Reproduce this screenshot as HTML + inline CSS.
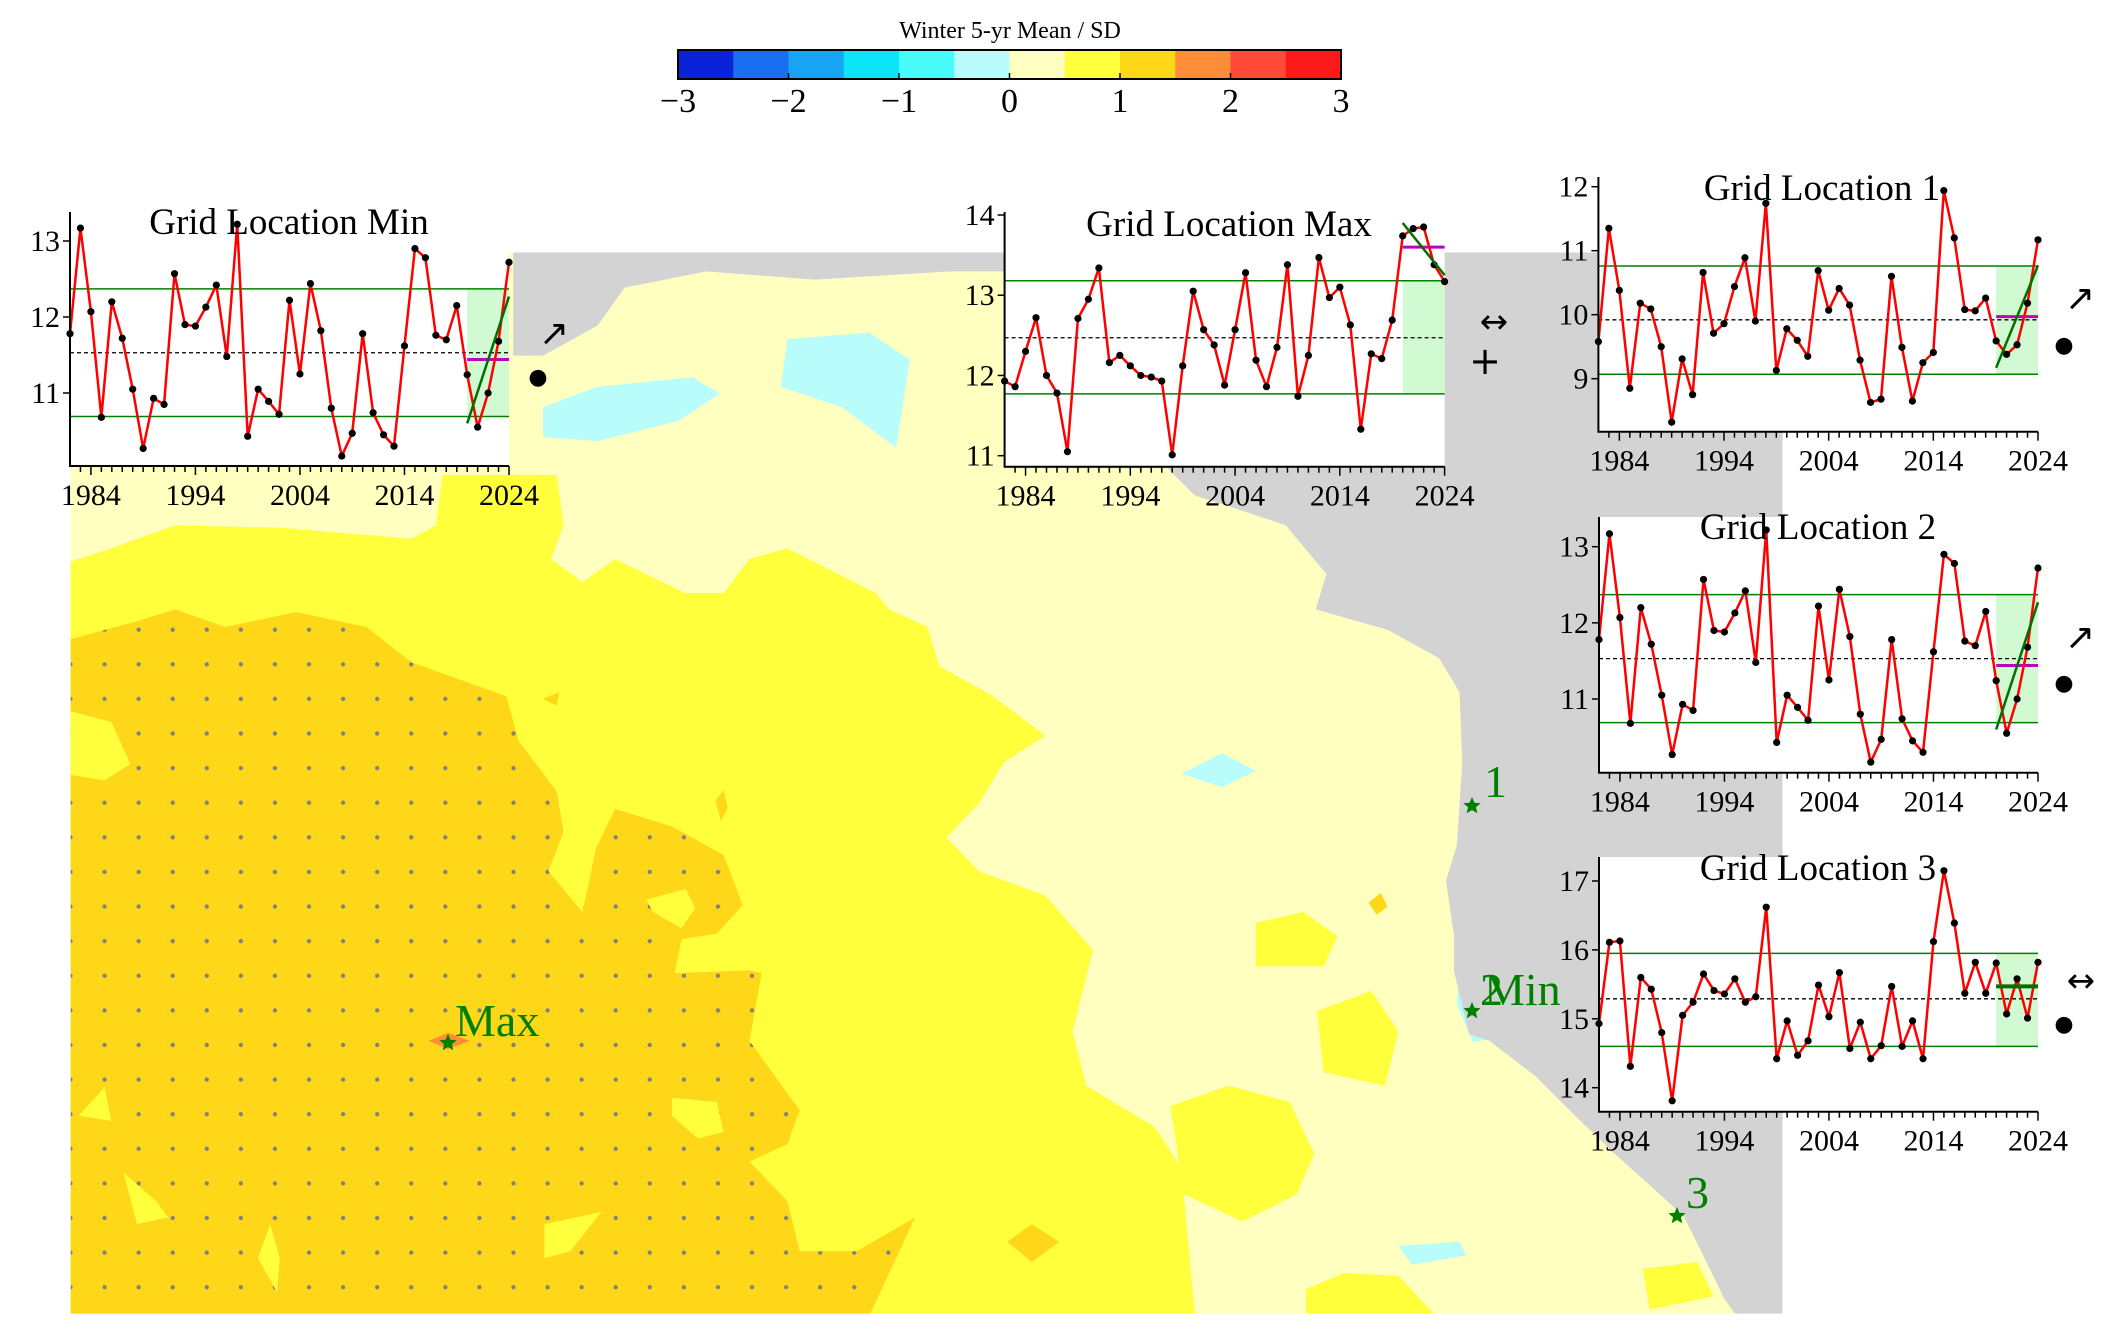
<!DOCTYPE html>
<html><head><meta charset="utf-8"><style>
html,body{margin:0;padding:0;background:#fff;}
svg{display:block;font-family:"Liberation Serif","DejaVu Serif",serif;}
</style></head><body>
<svg id="fig" width="2118" height="1330" viewBox="0 0 2118 1330" xmlns="http://www.w3.org/2000/svg">
<defs>
<clipPath id="mapclip"><rect x="52" y="186" width="1261" height="782"/></clipPath>
<pattern id="dots" patternUnits="userSpaceOnUse" x="64.45" y="451.25" width="25.1" height="25.5"><circle cx="12.55" cy="12.75" r="1.6" fill="#808080"/></pattern>
</defs>
<rect x="0" y="0" width="2118" height="1330" fill="#fff"/>
<g id="map" transform="scale(1.35769,1.35714)" clip-path="url(#mapclip)">
<rect x="52" y="186" width="1261" height="782" fill="#ffffc0"/>
<polygon fill="#ffff3c" points="52,414 82,404 129,387 208,389 303,397 321,387 326,350 410,350 415,387 406,412 429,429 453,412 505,437 533,437 552,412 580,404 645,437 655,449 683,462 692,491 730,512 770,542 739,562 721,592 697,617 721,642 770,660 805,700 790,760 800,800 850,830 870,860 880,968 52,968"/>
<g fill="#ffff3c">
<polygon points="925,680 960,672 985,690 975,712 925,712"/>
<polygon points="970,745 1010,730 1030,760 1020,800 975,790"/>
<polygon points="862,815 905,800 950,812 968,850 955,880 915,900 872,880"/>
<polygon points="962,950 990,938 1030,940 1056,968 962,968"/>
<polygon points="1210,935 1250,930 1262,955 1215,965"/>
<polygon points="470,190 510,188 520,200 480,205"/>
<polygon points="1040,455 1075,470 1085,485 1060,478"/>
</g>
<polygon id="goldpoly" fill="#ffd719" points="52,471 100,458 129,449 166,462 218,451 270,462 303,488 373,513 382,546 410,583 415,613 404,642 429,672 439,625 453,596 495,609 533,630 547,667 528,688 502,692 497,717 552,715 561,717 552,767 589,818 580,843 552,856 580,885 589,922 631,922 674,897 641,968 52,968"/>
<polygon fill="url(#dots)" points="52,471 100,458 129,449 166,462 218,451 270,462 303,488 373,513 382,546 410,583 415,613 404,642 429,672 439,625 453,596 495,609 533,630 547,667 528,688 502,692 497,717 552,715 561,717 552,767 589,818 580,843 552,856 580,885 589,922 631,922 674,897 641,968 52,968"/>
<g fill="#ffd719">
<polygon points="400,515 412,510 410,520"/>
<polygon points="527,590 533,582 536,595 531,605"/>
<polygon points="1008,665 1017,658 1022,668 1014,674"/>
<polygon points="742,915 760,902 780,915 760,930"/>
</g>
<g fill="#ffff3c">
<polygon points="52,524 82,532 96,563 77,575 52,571"/>
<polygon points="476,663 505,655 512,669 502,684 481,672"/>
<polygon points="495,809 528,812 533,834 514,839 495,822"/>
<polygon points="91,864 115,885 124,897 101,902"/>
<polygon points="199,902 206,927 204,952 190,927"/>
<polygon points="77,801 82,826 58,822"/>
<polygon points="401,902 443,893 420,922 401,927"/>
</g>
<polygon fill="#ff8c37" points="316,767 330,761 346,767 330,773"/>
<g fill="#b8fcfc">
<polygon points="580,250 640,245 670,265 660,330 620,300 575,285"/>
<polygon points="400,300 440,285 510,278 530,290 500,310 440,325 400,322"/>
<polygon points="870,570 900,555 925,568 900,580"/>
<polygon points="1075,718 1090,730 1100,765 1085,768 1073,740"/>
<polygon points="1030,918 1075,915 1080,925 1040,932"/>
</g>
<polygon fill="#d3d3d3" points="378,186 1313,186 1313,968 1278,968 1270,957 1255,926 1240,896 1217,875 1188,849 1161,823 1131,793 1097,767 1082,762 1071,716 1071,690 1065,649 1073,623 1077,562 1075,510 1060,485 1022,464 969,449 977,423 947,387 917,377 880,365 860,345 740,345 740,200 700,200 600,206 520,200 460,212 440,240 400,262 378,262"/>
</g>
<g id="cbar"></g>
<g id="insets"></g>
<g id="marks"></g>
</svg>
<script>
const NS="http://www.w3.org/2000/svg";
const years=[];for(let y=1982;y<=2024;y++)years.push(y);
const minVals=[11.78,13.17,12.07,10.68,12.2,11.72,11.05,10.27,10.93,10.85,12.57,11.9,11.88,12.13,12.42,11.48,13.22,10.43,11.05,10.89,10.72,12.22,11.25,12.44,11.82,10.8,10.17,10.47,11.78,10.74,10.45,10.3,11.62,12.9,12.78,11.76,11.7,12.15,11.24,10.55,11.0,11.68,12.72];
const maxVals=[11.93,11.86,12.3,12.72,12.0,11.78,11.05,12.71,12.95,13.34,12.16,12.25,12.12,12.0,11.98,11.93,11.01,12.12,13.05,12.57,12.38,11.88,12.57,13.28,12.19,11.86,12.35,13.38,11.74,12.25,13.47,12.97,13.1,12.63,11.33,12.27,12.21,12.69,13.74,13.83,13.85,13.38,13.17];
const g1Vals=[9.58,11.35,10.38,8.85,10.18,10.09,9.5,8.32,9.31,8.75,10.66,9.71,9.86,10.44,10.89,9.9,11.74,9.13,9.78,9.6,9.35,10.69,10.07,10.41,10.15,9.29,8.63,8.68,10.6,9.49,8.65,9.25,9.41,11.94,11.2,10.08,10.06,10.26,9.59,9.38,9.53,10.18,11.17];
const g2Vals=[11.78,13.17,12.07,10.68,12.2,11.72,11.05,10.27,10.93,10.85,12.57,11.9,11.88,12.13,12.42,11.48,13.22,10.43,11.05,10.89,10.72,12.22,11.25,12.44,11.82,10.8,10.17,10.47,11.78,10.74,10.45,10.3,11.62,12.9,12.78,11.76,11.7,12.15,11.24,10.55,11.0,11.68,12.72];
const g3Vals=[14.93,16.11,16.13,14.31,15.6,15.43,14.8,13.81,15.05,15.24,15.65,15.41,15.36,15.58,15.24,15.32,16.62,14.42,14.97,14.47,14.68,15.49,15.03,15.67,14.57,14.95,14.42,14.61,15.47,14.6,14.97,14.42,16.12,17.15,16.39,15.37,15.82,15.37,15.81,15.07,15.58,15.01,15.82];
const minStats=[12.37,10.69,11.53,11.44];
const maxStats=[13.18,11.77,12.47,13.6];
const g1Stats=[10.76,9.07,9.92,9.97];
const g2Stats=[12.37,10.69,11.53,11.44];
const g3Stats=[15.95,14.6,15.29,15.47];
const minTrend=[10.6,12.27];
const maxTrend=[13.9,13.25];
const g1Trend=[9.17,10.77];
const g2Trend=[10.6,12.27];
const g3Trend=[15.47,15.47];
const recentStart=2020;
const minTicks=[11,12,13];
const maxTicks=[11,12,13,14];
const g1Ticks=[9,10,11,12];
const g2Ticks=[11,12,13];
const g3Ticks=[14,15,16,17];
const xTickLabels=[1984,1994,2004,2014,2024];
const cbLevels=[-3,-2.5,-2,-1.5,-1,-0.5,0,0.5,1,1.5,2,2.5,3];
const cbColors=['#0a22d8','#1a6ef0','#18a4f5','#0ce4fa','#48fcfc','#b8fcfc','#ffffc0','#ffff3c','#ffd719','#ff8c37','#ff4a37','#ff1a1a'];
const cbTicks=[-3,-2,-1,0,1,2,3];

function mk(tag,attrs,parent){const e=document.createElementNS(NS,tag);for(const k in attrs)e.setAttribute(k,attrs[k]);parent.appendChild(e);return e;}

const cb=document.getElementById('cbar');
const cbx0=678,cbx1=1341,cby0=50,cby1=79;
const cbX=v=>cbx0+(v-cbLevels[0])/(cbLevels[cbLevels.length-1]-cbLevels[0])*(cbx1-cbx0);
for(let i=0;i<cbColors.length;i++){
 const r=mk('rect',{x:cbX(cbLevels[i]),y:cby0,width:cbX(cbLevels[i+1])-cbX(cbLevels[i])+0.5,height:cby1-cby0,fill:cbColors[i]},cb);
 
 
}
const cbf=mk('rect',{x:cbx0,y:cby0,width:cbx1-cbx0,height:cby1-cby0,fill:'none',stroke:'#000','stroke-width':2},cb);


cbTicks.forEach(v=>{
 mk('line',{x1:cbX(v),x2:cbX(v),y1:cby1,y2:cby1-6,stroke:'#000','stroke-width':1.5},cb);
 const t=mk('text',{x:cbX(v),y:112,'text-anchor':'middle','font-size':34},cb);
 t.textContent=(v<0?'\u2212'+Math.abs(v):String(v));
 
 
});
const cbt=mk('text',{x:1010,y:38,'text-anchor':'middle','font-size':24},cb);
cbt.textContent='Winter 5-yr Mean / SD';



const insets=document.getElementById('insets');
function drawInset(name,title,vals,stats,trend,ticks,c){
 const g=mk('g',{},insets);
 
 
 const X=yr=>c.x0+(yr-years[0])/(years[years.length-1]-years[0])*(c.x1-c.x0);
 const Y=v=>c.yRef+(c.vRef-v)*c.ppu;
 mk('rect',{x:c.x0,y:c.top,width:c.x1-c.x0,height:c.bot-c.top,fill:'#fff'},g);
 const sh=mk('rect',{x:X(recentStart),y:Y(stats[0]),width:X(years[years.length-1])-X(recentStart),height:Y(stats[1])-Y(stats[0]),fill:'#d2fad2'},g);
 
 
 [stats[0],stats[1]].forEach(v=>{
  const l=mk('line',{x1:c.x0,x2:c.x1,y1:Y(v),y2:Y(v),stroke:'#008000','stroke-width':1.5},g);
  
  
 });
 const ml=mk('line',{x1:c.x0,x2:c.x1,y1:Y(stats[2]),y2:Y(stats[2]),stroke:'#000','stroke-width':1.3,'stroke-dasharray':'4,3'},g);
 
 
 const rl=mk('line',{x1:X(recentStart),x2:X(years[years.length-1]),y1:Y(stats[3]),y2:Y(stats[3]),stroke:'#c000c0','stroke-width':3},g);
 
 
 const pl=mk('polyline',{points:vals.map((v,i)=>X(years[i])+','+Y(v)).join(' '),fill:'none',stroke:'#ff0000','stroke-width':2.5,'stroke-linejoin':'round'},g);
 
 
 vals.forEach((v,i)=>{
  const d=mk('circle',{cx:X(years[i]),cy:Y(v),r:3.6,fill:'#000'},g);
  
  
 });
 const tl=mk('line',{x1:X(recentStart),x2:X(years[years.length-1]),y1:Y(trend[0]),y2:Y(trend[1]),stroke:'#007000','stroke-width':trend[0]===trend[1]?4:2.5},g);
 
 
 const ya=mk('line',{x1:c.x0,x2:c.x0,y1:c.top,y2:c.bot,stroke:'#000','stroke-width':2},g);
 
 
 const xa=mk('line',{x1:c.x0-1,x2:c.x1,y1:c.bot,y2:c.bot,stroke:'#000','stroke-width':2},g);
 
 
 ticks.forEach(v=>{
  mk('line',{x1:c.x0,x2:c.x0-7,y1:Y(v),y2:Y(v),stroke:'#000','stroke-width':1.5},g);
  const t=mk('text',{x:c.x0-10,y:Y(v)+10,'text-anchor':'end','font-size':30},g);
  t.textContent=String(v);
  
  
 });
 years.forEach(yr=>{
  const major=xTickLabels.indexOf(yr)>=0;
  if(yr===years[0])return;
  mk('line',{x1:X(yr),x2:X(yr),y1:c.bot,y2:c.bot+(major?9:6),stroke:'#000','stroke-width':1.5},g);
 });
 xTickLabels.forEach(yr=>{
  const t=mk('text',{x:X(yr),y:c.bot+39,'text-anchor':'middle','font-size':30},g);
  t.textContent=String(yr);
  
  
 });
 const tt=mk('text',{x:c.tx,y:c.ty,'text-anchor':'middle','font-size':37},g);
 tt.textContent=title;
 
 
 c.syms.forEach(s=>{
  const t=mk('text',{x:s[1],y:s[2],'text-anchor':'middle','font-size':s[3],'font-family':'DejaVu Sans, sans-serif'},g);
  t.textContent=s[0];
  
  
 });
}
drawInset('inset-grid-min','Grid Location Min',minVals,minStats,minTrend,minTicks,
 {x0:70,x1:509,top:212,bot:466,yRef:241,vRef:13,ppu:76,tx:289,ty:234,syms:[['\u2197',554,345,36],['\u25CF',538,384,22]]});
drawInset('inset-grid-max','Grid Location Max',maxVals,maxStats,maxTrend,maxTicks,
 {x0:1004.6,x1:1444.6,top:212,bot:466.7,yRef:215,vRef:14,ppu:80.23,tx:1229,ty:236,syms:[['\u2194',1494,333,34],['+',1485,374,38]]});
drawInset('inset-grid-1','Grid Location 1',g1Vals,g1Stats,g1Trend,g1Ticks,
 {x0:1598.4,x1:2038,top:177,bot:431.7,yRef:186.7,vRef:12,ppu:64,tx:1822,ty:200,syms:[['\u2197',2080,310,36],['\u25CF',2064,352,22]]});
drawInset('inset-grid-2','Grid Location 2',g2Vals,g2Stats,g2Trend,g2Ticks,
 {x0:1599,x1:2038,top:517,bot:772.7,yRef:546.7,vRef:13,ppu:76.15,tx:1818,ty:539,syms:[['\u2197',2080,649,36],['\u25CF',2064,690,22]]});
drawInset('inset-grid-3','Grid Location 3',g3Vals,g3Stats,g3Trend,g3Ticks,
 {x0:1599,x1:2038,top:857,bot:1111.7,yRef:881,vRef:17,ppu:68.9,tx:1818,ty:880,syms:[['\u2194',2081,992,34],['\u25CF',2064,1031,22]]});

const marks=document.getElementById('marks');
const markerLabels=['Max','1','2','Min','3'];
const markerPos=[[448,1043,455,1036],[1472,806,1484,797],[1472,1011,1480,1005],[1472,1011,1484,1005],[1677,1216,1686,1208]];
function star(cx,cy,r){let p=[];for(let i=0;i<10;i++){const a=-Math.PI/2+i*Math.PI/5;const rr=i%2?r*0.45:r;p.push((cx+rr*Math.cos(a)).toFixed(1)+','+(cy+rr*Math.sin(a)).toFixed(1));}return p.join(' ');}
markerLabels.forEach((lab,i)=>{
 const p=markerPos[i];
 if(lab!=='Min'){
  const s=mk('polygon',{points:star(p[0],p[1],9),fill:'#008000'},marks);
  
  
 }
 const t=mk('text',{x:p[2],y:p[3],'font-size':46,fill:'#008000'},marks);
 t.textContent=lab;
 
 
});
</script>
</body></html>
